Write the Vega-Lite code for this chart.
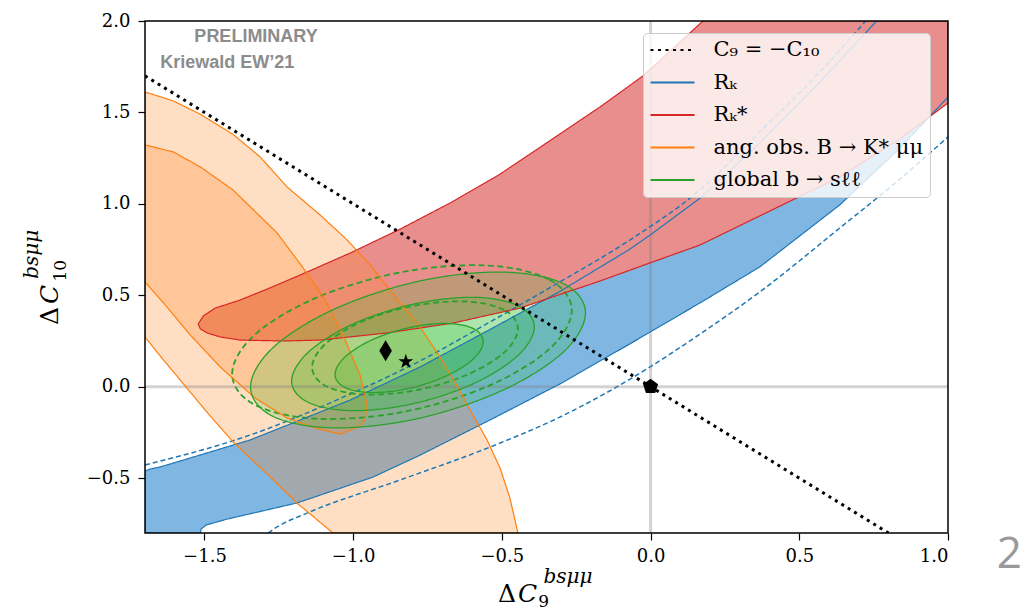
{
  "$schema": "https://vega.github.io/schema/vega-lite/v6.json",
  "width": 803,
  "height": 512,
  "autosize": {"type": "none"},
  "padding": {"left": 145, "top": 21, "right": 85, "bottom": 79},
  "background": "white",
  "config": {
    "view": {"stroke": null},
    "axis": {"domain": false, "grid": false, "ticks": true, "tickColor": "black", "tickWidth": 1.2, "tickSize": 7, "labelFont": "DejaVu Serif", "labelFontSize": 18, "labelColor": "black", "zindex": 1}
  },
  "datasets": {
    "poly": [
      {"shape":"rk","series":"Rₖ","i":1,"x":-1.7,"y":-0.8},
      {"shape":"rk","series":"Rₖ","i":2,"x":-1.514,"y":-0.8},
      {"shape":"rk","series":"Rₖ","i":3,"x":-1.511,"y":-0.778},
      {"shape":"rk","series":"Rₖ","i":4,"x":-1.494,"y":-0.756},
      {"shape":"rk","series":"Rₖ","i":5,"x":-1.424,"y":-0.724},
      {"shape":"rk","series":"Rₖ","i":6,"x":-1.189,"y":-0.636},
      {"shape":"rk","series":"Rₖ","i":7,"x":-0.933,"y":-0.494},
      {"shape":"rk","series":"Rₖ","i":8,"x":-0.775,"y":-0.374},
      {"shape":"rk","series":"Rₖ","i":9,"x":-0.54,"y":-0.182},
      {"shape":"rk","series":"Rₖ","i":10,"x":-0.305,"y":0.015},
      {"shape":"rk","series":"Rₖ","i":11,"x":-0.07,"y":0.234},
      {"shape":"rk","series":"Rₖ","i":12,"x":0.166,"y":0.458},
      {"shape":"rk","series":"Rₖ","i":13,"x":0.367,"y":0.655},
      {"shape":"rk","series":"Rₖ","i":14,"x":0.636,"y":0.994},
      {"shape":"rk","series":"Rₖ","i":15,"x":0.838,"y":1.305},
      {"shape":"rk","series":"Rₖ","i":16,"x":1.0,"y":1.584},
      {"shape":"rk","series":"Rₖ","i":17,"x":1.0,"y":2.0},
      {"shape":"rk","series":"Rₖ","i":18,"x":0.76,"y":2.0},
      {"shape":"rk","series":"Rₖ","i":19,"x":0.569,"y":1.666},
      {"shape":"rk","series":"Rₖ","i":20,"x":0.367,"y":1.333},
      {"shape":"rk","series":"Rₖ","i":21,"x":0.166,"y":1.031},
      {"shape":"rk","series":"Rₖ","i":22,"x":-0.002,"y":0.829},
      {"shape":"rk","series":"Rₖ","i":23,"x":-0.07,"y":0.752},
      {"shape":"rk","series":"Rₖ","i":24,"x":-0.305,"y":0.521},
      {"shape":"rk","series":"Rₖ","i":25,"x":-0.54,"y":0.313},
      {"shape":"rk","series":"Rₖ","i":26,"x":-0.775,"y":0.108},
      {"shape":"rk","series":"Rₖ","i":27,"x":-1.01,"y":-0.073},
      {"shape":"rk","series":"Rₖ","i":28,"x":-1.346,"y":-0.291},
      {"shape":"rk","series":"Rₖ","i":29,"x":-1.649,"y":-0.439},
      {"shape":"rk","series":"Rₖ","i":30,"x":-1.682,"y":-0.45},
      {"shape":"rk","series":"Rₖ","i":31,"x":-1.7,"y":-0.461},

      {"shape":"rks","series":"Rₖ*","i":1,"x":-1.521,"y":0.343},
      {"shape":"rks","series":"Rₖ*","i":2,"x":-1.504,"y":0.387},
      {"shape":"rks","series":"Rₖ*","i":3,"x":-1.464,"y":0.43},
      {"shape":"rks","series":"Rₖ*","i":4,"x":-1.38,"y":0.474},
      {"shape":"rks","series":"Rₖ*","i":5,"x":-1.289,"y":0.534},
      {"shape":"rks","series":"Rₖ*","i":6,"x":-1.178,"y":0.611},
      {"shape":"rks","series":"Rₖ*","i":7,"x":-1.01,"y":0.731},
      {"shape":"rks","series":"Rₖ*","i":8,"x":-0.842,"y":0.862},
      {"shape":"rks","series":"Rₖ*","i":9,"x":-0.674,"y":1.005},
      {"shape":"rks","series":"Rₖ*","i":10,"x":-0.506,"y":1.163},
      {"shape":"rks","series":"Rₖ*","i":11,"x":-0.348,"y":1.335},
      {"shape":"rks","series":"Rₖ*","i":12,"x":-0.17,"y":1.53},
      {"shape":"rks","series":"Rₖ*","i":13,"x":-0.026,"y":1.699},
      {"shape":"rks","series":"Rₖ*","i":14,"x":0.176,"y":2.0},
      {"shape":"rks","series":"Rₖ*","i":15,"x":1.0,"y":2.0},
      {"shape":"rks","series":"Rₖ*","i":16,"x":1.0,"y":1.552},
      {"shape":"rks","series":"Rₖ*","i":17,"x":0.838,"y":1.355},
      {"shape":"rks","series":"Rₖ*","i":18,"x":0.636,"y":1.147},
      {"shape":"rks","series":"Rₖ*","i":19,"x":0.367,"y":0.934},
      {"shape":"rks","series":"Rₖ*","i":20,"x":0.166,"y":0.775},
      {"shape":"rks","series":"Rₖ*","i":21,"x":-0.002,"y":0.677},
      {"shape":"rks","series":"Rₖ*","i":22,"x":-0.17,"y":0.578},
      {"shape":"rks","series":"Rₖ*","i":23,"x":-0.271,"y":0.523},
      {"shape":"rks","series":"Rₖ*","i":24,"x":-0.439,"y":0.43},
      {"shape":"rks","series":"Rₖ*","i":25,"x":-0.664,"y":0.348},
      {"shape":"rks","series":"Rₖ*","i":26,"x":-0.886,"y":0.294},
      {"shape":"rks","series":"Rₖ*","i":27,"x":-1.111,"y":0.255},
      {"shape":"rks","series":"Rₖ*","i":28,"x":-1.236,"y":0.25},
      {"shape":"rks","series":"Rₖ*","i":29,"x":-1.38,"y":0.255},
      {"shape":"rks","series":"Rₖ*","i":30,"x":-1.447,"y":0.272},
      {"shape":"rks","series":"Rₖ*","i":31,"x":-1.491,"y":0.294},
      {"shape":"rks","series":"Rₖ*","i":32,"x":-1.514,"y":0.316},

      {"shape":"ang_outer","series":"ang. obs. B → K* μμ","i":1,"x":-1.7,"y":1.612},
      {"shape":"ang_outer","series":"ang. obs. B → K* μμ","i":2,"x":-1.605,"y":1.563},
      {"shape":"ang_outer","series":"ang. obs. B → K* μμ","i":3,"x":-1.514,"y":1.49},
      {"shape":"ang_outer","series":"ang. obs. B → K* μμ","i":4,"x":-1.404,"y":1.38},
      {"shape":"ang_outer","series":"ang. obs. B → K* μμ","i":5,"x":-1.313,"y":1.257},
      {"shape":"ang_outer","series":"ang. obs. B → K* μμ","i":6,"x":-1.222,"y":1.092},
      {"shape":"ang_outer","series":"ang. obs. B → K* μμ","i":7,"x":-1.111,"y":0.939},
      {"shape":"ang_outer","series":"ang. obs. B → K* μμ","i":8,"x":-1.02,"y":0.802},
      {"shape":"ang_outer","series":"ang. obs. B → K* μμ","i":9,"x":-0.943,"y":0.666},
      {"shape":"ang_outer","series":"ang. obs. B → K* μμ","i":10,"x":-0.842,"y":0.458},
      {"shape":"ang_outer","series":"ang. obs. B → K* μμ","i":11,"x":-0.775,"y":0.327},
      {"shape":"ang_outer","series":"ang. obs. B → K* μμ","i":12,"x":-0.708,"y":0.162},
      {"shape":"ang_outer","series":"ang. obs. B → K* μμ","i":13,"x":-0.658,"y":0.026},
      {"shape":"ang_outer","series":"ang. obs. B → K* μμ","i":14,"x":-0.607,"y":-0.127},
      {"shape":"ang_outer","series":"ang. obs. B → K* μμ","i":15,"x":-0.55,"y":-0.291},
      {"shape":"ang_outer","series":"ang. obs. B → K* μμ","i":16,"x":-0.506,"y":-0.445},
      {"shape":"ang_outer","series":"ang. obs. B → K* μμ","i":17,"x":-0.473,"y":-0.609},
      {"shape":"ang_outer","series":"ang. obs. B → K* μμ","i":18,"x":-0.446,"y":-0.8},
      {"shape":"ang_outer","series":"ang. obs. B → K* μμ","i":19,"x":-1.068,"y":-0.8},
      {"shape":"ang_outer","series":"ang. obs. B → K* μμ","i":20,"x":-1.189,"y":-0.636},
      {"shape":"ang_outer","series":"ang. obs. B → K* μμ","i":21,"x":-1.296,"y":-0.467},
      {"shape":"ang_outer","series":"ang. obs. B → K* μμ","i":22,"x":-1.404,"y":-0.302},
      {"shape":"ang_outer","series":"ang. obs. B → K* μμ","i":23,"x":-1.498,"y":-0.127},
      {"shape":"ang_outer","series":"ang. obs. B → K* μμ","i":24,"x":-1.582,"y":0.037},
      {"shape":"ang_outer","series":"ang. obs. B → K* μμ","i":25,"x":-1.649,"y":0.168},
      {"shape":"ang_outer","series":"ang. obs. B → K* μμ","i":26,"x":-1.7,"y":0.272},

      {"shape":"ang_inner","series":"ang. obs. B → K* μμ","i":1,"x":-1.7,"y":1.322},
      {"shape":"ang_inner","series":"ang. obs. B → K* μμ","i":2,"x":-1.605,"y":1.284},
      {"shape":"ang_inner","series":"ang. obs. B → K* μμ","i":3,"x":-1.514,"y":1.202},
      {"shape":"ang_inner","series":"ang. obs. B → K* μμ","i":4,"x":-1.404,"y":1.076},
      {"shape":"ang_inner","series":"ang. obs. B → K* μμ","i":5,"x":-1.256,"y":0.841},
      {"shape":"ang_inner","series":"ang. obs. B → K* μμ","i":6,"x":-1.168,"y":0.649},
      {"shape":"ang_inner","series":"ang. obs. B → K* μμ","i":7,"x":-1.094,"y":0.474},
      {"shape":"ang_inner","series":"ang. obs. B → K* μμ","i":8,"x":-1.027,"y":0.255},
      {"shape":"ang_inner","series":"ang. obs. B → K* μμ","i":9,"x":-0.977,"y":0.064},
      {"shape":"ang_inner","series":"ang. obs. B → K* μμ","i":10,"x":-0.953,"y":-0.1},
      {"shape":"ang_inner","series":"ang. obs. B → K* μμ","i":11,"x":-0.96,"y":-0.182},
      {"shape":"ang_inner","series":"ang. obs. B → K* μμ","i":12,"x":-0.983,"y":-0.22},
      {"shape":"ang_inner","series":"ang. obs. B → K* μμ","i":13,"x":-1.044,"y":-0.259},
      {"shape":"ang_inner","series":"ang. obs. B → K* μμ","i":14,"x":-1.128,"y":-0.226},
      {"shape":"ang_inner","series":"ang. obs. B → K* μμ","i":15,"x":-1.222,"y":-0.171},
      {"shape":"ang_inner","series":"ang. obs. B → K* μμ","i":16,"x":-1.33,"y":-0.062},
      {"shape":"ang_inner","series":"ang. obs. B → K* μμ","i":17,"x":-1.447,"y":0.108},
      {"shape":"ang_inner","series":"ang. obs. B → K* μμ","i":18,"x":-1.548,"y":0.283},
      {"shape":"ang_inner","series":"ang. obs. B → K* μμ","i":19,"x":-1.632,"y":0.447},
      {"shape":"ang_inner","series":"ang. obs. B → K* μμ","i":20,"x":-1.7,"y":0.573},

      {"shape":"s1","series":"global b → sℓℓ","i":1,"x":-0.563,"y":0.247},
      {"shape":"s1","series":"global b → sℓℓ","i":2,"x":-0.596,"y":0.318},
      {"shape":"s1","series":"global b → sℓℓ","i":3,"x":-0.688,"y":0.346},
      {"shape":"s1","series":"global b → sℓℓ","i":4,"x":-0.812,"y":0.323},
      {"shape":"s1","series":"global b → sℓℓ","i":5,"x":-0.937,"y":0.256},
      {"shape":"s1","series":"global b → sℓℓ","i":6,"x":-1.028,"y":0.162},
      {"shape":"s1","series":"global b → sℓℓ","i":7,"x":-1.061,"y":0.067},
      {"shape":"s1","series":"global b → sℓℓ","i":8,"x":-1.028,"y":-0.004},
      {"shape":"s1","series":"global b → sℓℓ","i":9,"x":-0.937,"y":-0.032},
      {"shape":"s1","series":"global b → sℓℓ","i":10,"x":-0.812,"y":-0.009},
      {"shape":"s1","series":"global b → sℓℓ","i":11,"x":-0.688,"y":0.058},
      {"shape":"s1","series":"global b → sℓℓ","i":12,"x":-0.596,"y":0.152},

      {"shape":"s2","series":"global b → sℓℓ","i":1,"x":-0.391,"y":0.327},
      {"shape":"s2","series":"global b → sℓℓ","i":2,"x":-0.446,"y":0.443},
      {"shape":"s2","series":"global b → sℓℓ","i":3,"x":-0.595,"y":0.489},
      {"shape":"s2","series":"global b → sℓℓ","i":4,"x":-0.799,"y":0.451},
      {"shape":"s2","series":"global b → sℓℓ","i":5,"x":-1.003,"y":0.341},
      {"shape":"s2","series":"global b → sℓℓ","i":6,"x":-1.152,"y":0.187},
      {"shape":"s2","series":"global b → sℓℓ","i":7,"x":-1.207,"y":0.031},
      {"shape":"s2","series":"global b → sℓℓ","i":8,"x":-1.152,"y":-0.085},
      {"shape":"s2","series":"global b → sℓℓ","i":9,"x":-1.003,"y":-0.131},
      {"shape":"s2","series":"global b → sℓℓ","i":10,"x":-0.799,"y":-0.093},
      {"shape":"s2","series":"global b → sℓℓ","i":11,"x":-0.595,"y":0.017},
      {"shape":"s2","series":"global b → sℓℓ","i":12,"x":-0.446,"y":0.171},

      {"shape":"s3","series":"global b → sℓℓ","i":1,"x":-0.219,"y":0.404},
      {"shape":"s3","series":"global b → sℓℓ","i":2,"x":-0.294,"y":0.564},
      {"shape":"s3","series":"global b → sℓℓ","i":3,"x":-0.501,"y":0.627},
      {"shape":"s3","series":"global b → sℓℓ","i":4,"x":-0.782,"y":0.576},
      {"shape":"s3","series":"global b → sℓℓ","i":5,"x":-1.064,"y":0.424},
      {"shape":"s3","series":"global b → sℓℓ","i":6,"x":-1.27,"y":0.213},
      {"shape":"s3","series":"global b → sℓℓ","i":7,"x":-1.345,"y":-0.002},
      {"shape":"s3","series":"global b → sℓℓ","i":8,"x":-1.27,"y":-0.162},
      {"shape":"s3","series":"global b → sℓℓ","i":9,"x":-1.064,"y":-0.225},
      {"shape":"s3","series":"global b → sℓℓ","i":10,"x":-0.782,"y":-0.174},
      {"shape":"s3","series":"global b → sℓℓ","i":11,"x":-0.501,"y":-0.022},
      {"shape":"s3","series":"global b → sℓℓ","i":12,"x":-0.294,"y":0.189}
    ],
    "lines": [
      {"shape":"rk_up","i":1,"x":-1.7,"y":-0.428},
      {"shape":"rk_up","i":2,"x":-1.346,"y":-0.264},
      {"shape":"rk_up","i":3,"x":-1.01,"y":-0.04},
      {"shape":"rk_up","i":4,"x":-0.775,"y":0.141},
      {"shape":"rk_up","i":5,"x":-0.54,"y":0.354},
      {"shape":"rk_up","i":6,"x":-0.305,"y":0.573},
      {"shape":"rk_up","i":7,"x":-0.07,"y":0.802},
      {"shape":"rk_up","i":8,"x":0.166,"y":1.076},
      {"shape":"rk_up","i":9,"x":0.367,"y":1.393},
      {"shape":"rk_up","i":10,"x":0.569,"y":1.721},
      {"shape":"rk_up","i":11,"x":0.723,"y":2.0},

      {"shape":"rk_lo","i":1,"x":-1.286,"y":-0.8},
      {"shape":"rk_lo","i":2,"x":-1.256,"y":-0.767},
      {"shape":"rk_lo","i":3,"x":-1.155,"y":-0.691},
      {"shape":"rk_lo","i":4,"x":-0.842,"y":-0.51},
      {"shape":"rk_lo","i":5,"x":-0.54,"y":-0.33},
      {"shape":"rk_lo","i":6,"x":-0.305,"y":-0.166},
      {"shape":"rk_lo","i":7,"x":-0.002,"y":0.108},
      {"shape":"rk_lo","i":8,"x":0.166,"y":0.288},
      {"shape":"rk_lo","i":9,"x":0.367,"y":0.518},
      {"shape":"rk_lo","i":10,"x":0.636,"y":0.868},
      {"shape":"rk_lo","i":11,"x":0.838,"y":1.135},
      {"shape":"rk_lo","i":12,"x":1.0,"y":1.366},

      {"shape":"d1","i":1,"x":-0.446,"y":0.318},
      {"shape":"d1","i":2,"x":-0.492,"y":0.42},
      {"shape":"d1","i":3,"x":-0.619,"y":0.466},
      {"shape":"d1","i":4,"x":-0.792,"y":0.444},
      {"shape":"d1","i":5,"x":-0.965,"y":0.36},
      {"shape":"d1","i":6,"x":-1.092,"y":0.236},
      {"shape":"d1","i":7,"x":-1.138,"y":0.106},
      {"shape":"d1","i":8,"x":-1.092,"y":0.004},
      {"shape":"d1","i":9,"x":-0.965,"y":-0.042},
      {"shape":"d1","i":10,"x":-0.792,"y":-0.02},
      {"shape":"d1","i":11,"x":-0.619,"y":0.064},
      {"shape":"d1","i":12,"x":-0.492,"y":0.188},

      {"shape":"d2","i":1,"x":-0.265,"y":0.419},
      {"shape":"d2","i":2,"x":-0.342,"y":0.587},
      {"shape":"d2","i":3,"x":-0.551,"y":0.663},
      {"shape":"d2","i":4,"x":-0.836,"y":0.627},
      {"shape":"d2","i":5,"x":-1.122,"y":0.488},
      {"shape":"d2","i":6,"x":-1.331,"y":0.284},
      {"shape":"d2","i":7,"x":-1.407,"y":0.069},
      {"shape":"d2","i":8,"x":-1.331,"y":-0.099},
      {"shape":"d2","i":9,"x":-1.122,"y":-0.175},
      {"shape":"d2","i":10,"x":-0.836,"y":-0.139},
      {"shape":"d2","i":11,"x":-0.551,"y":0.0},
      {"shape":"d2","i":12,"x":-0.342,"y":0.204},

      {"shape":"c9","series":"C₉ = −C₁₀","i":1,"x":-1.7,"y":1.7},
      {"shape":"c9","series":"C₉ = −C₁₀","i":2,"x":0.8,"y":-0.8}
    ],
    "points": [
      {"name":"SM","x":0.0,"y":0.0},
      {"name":"fit_a","x":-0.891,"y":0.197},
      {"name":"fit_b","x":-0.823,"y":0.137}
    ]
  },
  "layer": [
    {
      "data": {"name": "poly"},
      "transform": [{"filter": "datum.shape === 'rk'"}],
      "mark": {"type": "line", "interpolate": "linear-closed", "fill": "#7fb6e2", "strokeWidth": 0, "clip": true},
      "encoding": {
        "x": {"field": "x", "type": "quantitative", "title": null, "scale": {"domain": [-1.7, 1.0], "nice": false, "zero": false},
              "axis": {"values": [-1.5, -1, -0.5, 0, 0.5, 1], "format": ".1f", "labelPadding": 7, "title": null}},
        "y": {"field": "y", "type": "quantitative", "title": null, "scale": {"domain": [-0.8, 2.0], "nice": false, "zero": false},
              "axis": {"values": [-0.5, 0, 0.5, 1, 1.5, 2], "format": ".1f", "labelPadding": 8, "title": null}},
        "order": {"field": "i", "type": "quantitative"}
      }
    },
    {
      "data": {"name": "poly"},
      "transform": [{"filter": "datum.shape === 'rks'"}],
      "mark": {"type": "line", "interpolate": "linear-closed", "fill": "#e88f8e", "strokeWidth": 0, "clip": true},
      "encoding": {
        "x": {"field": "x", "type": "quantitative", "title": null, "scale": {"domain": [-1.7, 1.0], "nice": false, "zero": false}},
        "y": {"field": "y", "type": "quantitative", "title": null, "scale": {"domain": [-0.8, 2.0], "nice": false, "zero": false}},
        "order": {"field": "i", "type": "quantitative"}
      }
    },
    {
      "data": {"name": "poly"},
      "transform": [{"filter": "datum.shape === 'ang_outer' || datum.shape === 'ang_inner'"}],
      "mark": {"type": "line", "interpolate": "linear-closed", "fill": "#ff8a24", "fillOpacity": 0.27, "strokeWidth": 0, "clip": true},
      "encoding": {
        "x": {"field": "x", "type": "quantitative", "title": null, "scale": {"domain": [-1.7, 1.0], "nice": false, "zero": false}},
        "y": {"field": "y", "type": "quantitative", "title": null, "scale": {"domain": [-0.8, 2.0], "nice": false, "zero": false}},
        "detail": {"field": "shape"},
        "order": {"field": "i", "type": "quantitative"}
      }
    },
    {
      "data": {"name": "poly"},
      "transform": [{"filter": "datum.shape === 's1' || datum.shape === 's2' || datum.shape === 's3'"}],
      "mark": {"type": "line", "interpolate": "cardinal-closed", "fill": "#2cbf2c", "fillOpacity": 0.22, "strokeWidth": 0, "clip": true},
      "encoding": {
        "x": {"field": "x", "type": "quantitative", "title": null, "scale": {"domain": [-1.7, 1.0], "nice": false, "zero": false}},
        "y": {"field": "y", "type": "quantitative", "title": null, "scale": {"domain": [-0.8, 2.0], "nice": false, "zero": false}},
        "detail": {"field": "shape"},
        "order": {"field": "i", "type": "quantitative"}
      }
    },
    {
      "data": {"values": [{}]},
      "mark": {"type": "rule", "color": "#808080", "strokeWidth": 3, "opacity": 0.35},
      "encoding": {
        "x": {"datum": 0, "type": "quantitative", "title": null, "scale": {"domain": [-1.7, 1.0], "nice": false, "zero": false}}
      }
    },
    {
      "data": {"values": [{}]},
      "mark": {"type": "rule", "color": "#808080", "strokeWidth": 3, "opacity": 0.35},
      "encoding": {
        "y": {"datum": 0, "type": "quantitative", "title": null, "scale": {"domain": [-0.8, 2.0], "nice": false, "zero": false}}
      }
    },
    {
      "data": {"name": "lines"},
      "transform": [{"filter": "datum.shape === 'rk_up' || datum.shape === 'rk_lo'"}],
      "mark": {"type": "line", "interpolate": "monotone", "stroke": "#1f77b4", "strokeWidth": 1.5, "strokeDash": [5, 3], "clip": true},
      "encoding": {
        "x": {"field": "x", "type": "quantitative", "title": null, "scale": {"domain": [-1.7, 1.0], "nice": false, "zero": false}},
        "y": {"field": "y", "type": "quantitative", "title": null, "scale": {"domain": [-0.8, 2.0], "nice": false, "zero": false}},
        "detail": {"field": "shape"},
        "order": {"field": "i", "type": "quantitative"}
      }
    },
    {
      "data": {"name": "lines"},
      "transform": [{"filter": "datum.shape === 'd1' || datum.shape === 'd2'"}],
      "mark": {"type": "line", "interpolate": "cardinal-closed", "stroke": "#2ca02c", "strokeWidth": 1.8, "strokeDash": [6, 3.5], "clip": true},
      "encoding": {
        "x": {"field": "x", "type": "quantitative", "title": null, "scale": {"domain": [-1.7, 1.0], "nice": false, "zero": false}},
        "y": {"field": "y", "type": "quantitative", "title": null, "scale": {"domain": [-0.8, 2.0], "nice": false, "zero": false}},
        "detail": {"field": "shape"},
        "order": {"field": "i", "type": "quantitative"}
      }
    },
    {
      "data": {"name": "poly"},
      "transform": [{"filter": "datum.shape === 'rk' || datum.shape === 'rks' || datum.shape === 'ang_outer' || datum.shape === 'ang_inner'"}],
      "mark": {"type": "line", "interpolate": "linear-closed", "strokeWidth": 1.2, "clip": true},
      "encoding": {
        "x": {"field": "x", "type": "quantitative", "title": null, "scale": {"domain": [-1.7, 1.0], "nice": false, "zero": false}},
        "y": {"field": "y", "type": "quantitative", "title": null, "scale": {"domain": [-0.8, 2.0], "nice": false, "zero": false}},
        "detail": {"field": "shape"},
        "order": {"field": "i", "type": "quantitative"},
        "stroke": {"field": "series", "type": "nominal",
          "scale": {"domain": ["C₉ = −C₁₀", "Rₖ", "Rₖ*", "ang. obs. B → K* μμ", "global b → sℓℓ"], "range": ["#000000", "#1f77b4", "#d62728", "#ff7f0e", "#2ca02c"]},
          "legend": {"title": null, "orient": "none", "legendX": 498, "legendY": 12, "fillColor": "rgba(255,255,255,0.8)", "strokeColor": "#cccccc", "cornerRadius": 4, "padding": 6.5, "symbolType": "stroke", "symbolSize": 1936, "symbolStrokeWidth": 2, "clipHeight": 21, "rowPadding": 10.5, "labelOffset": 18, "labelFont": "DejaVu Serif", "labelFontSize": 21, "labelColor": "black", "labelLimit": 400}},
        "strokeDash": {"field": "series", "type": "nominal",
          "scale": {"domain": ["C₉ = −C₁₀", "Rₖ", "Rₖ*", "ang. obs. B → K* μμ", "global b → sℓℓ"], "range": [[3, 4.5], [1, 0], [1, 0], [1, 0], [1, 0]]},
          "legend": {"title": null, "orient": "none", "legendX": 498, "legendY": 12, "fillColor": "rgba(255,255,255,0.8)", "strokeColor": "#cccccc", "cornerRadius": 4, "padding": 6.5, "symbolType": "stroke", "symbolSize": 1936, "symbolStrokeWidth": 2, "clipHeight": 21, "rowPadding": 10.5, "labelOffset": 18, "labelFont": "DejaVu Serif", "labelFontSize": 21, "labelColor": "black", "labelLimit": 400}}
      }
    },
    {
      "data": {"name": "poly"},
      "transform": [{"filter": "datum.shape === 's1' || datum.shape === 's2' || datum.shape === 's3'"}],
      "mark": {"type": "line", "interpolate": "cardinal-closed", "strokeWidth": 1.3, "clip": true},
      "encoding": {
        "x": {"field": "x", "type": "quantitative", "title": null, "scale": {"domain": [-1.7, 1.0], "nice": false, "zero": false}},
        "y": {"field": "y", "type": "quantitative", "title": null, "scale": {"domain": [-0.8, 2.0], "nice": false, "zero": false}},
        "detail": {"field": "shape"},
        "order": {"field": "i", "type": "quantitative"},
        "stroke": {"field": "series", "type": "nominal"},
        "strokeDash": {"field": "series", "type": "nominal"}
      }
    },
    {
      "data": {"name": "lines"},
      "transform": [{"filter": "datum.shape === 'c9'"}],
      "mark": {"type": "line", "strokeWidth": 3, "clip": true},
      "encoding": {
        "x": {"field": "x", "type": "quantitative", "title": null, "scale": {"domain": [-1.7, 1.0], "nice": false, "zero": false}},
        "y": {"field": "y", "type": "quantitative", "title": null, "scale": {"domain": [-0.8, 2.0], "nice": false, "zero": false}},
        "order": {"field": "i", "type": "quantitative"},
        "stroke": {"field": "series", "type": "nominal"},
        "strokeDash": {"field": "series", "type": "nominal"}
      }
    },
    {
      "data": {"name": "points"},
      "mark": {"type": "point", "filled": true, "color": "black", "opacity": 1, "size": 250, "strokeWidth": 0},
      "encoding": {
        "x": {"field": "x", "type": "quantitative", "title": null, "scale": {"domain": [-1.7, 1.0], "nice": false, "zero": false}},
        "y": {"field": "y", "type": "quantitative", "title": null, "scale": {"domain": [-0.8, 2.0], "nice": false, "zero": false}},
        "shape": {"field": "name", "type": "nominal", "legend": null,
          "scale": {"domain": ["SM", "fit_a", "fit_b"],
            "range": ["M0,-1L0.951,-0.309L0.588,0.809L-0.588,0.809L-0.951,-0.309Z", "M0,-1.33L0.8,0L0,1.33L-0.8,0Z", "M0,-1L0.2245,-0.309L0.951,-0.309L0.363,0.118L0.588,0.809L0,0.382L-0.588,0.809L-0.363,0.118L-0.951,-0.309L-0.2245,-0.309Z"]}}
      }
    },
    {
      "data": {"values": [{}]},
      "mark": {"type": "rect", "fillOpacity": 0, "stroke": "black", "strokeWidth": 1.5},
      "encoding": {
        "x": {"datum": -1.7, "type": "quantitative", "title": null, "scale": {"domain": [-1.7, 1.0], "nice": false, "zero": false}},
        "x2": {"datum": 1.0},
        "y": {"datum": -0.8, "type": "quantitative", "title": null, "scale": {"domain": [-0.8, 2.0], "nice": false, "zero": false}},
        "y2": {"datum": 2.0}
      }
    },
    {
      "data": {"values": [{}]},
      "mark": {"type": "text", "text": "PRELIMINARY", "font": "Liberation Sans", "fontWeight": "bold", "fontSize": 18, "color": "#8c8c8c", "align": "left", "baseline": "alphabetic"},
      "encoding": {
        "x": {"datum": -1.534, "type": "quantitative", "scale": {"domain": [-1.7, 1.0], "nice": false, "zero": false}},
        "y": {"datum": 1.887, "type": "quantitative", "scale": {"domain": [-0.8, 2.0], "nice": false, "zero": false}}
      }
    },
    {
      "data": {"values": [{}]},
      "mark": {"type": "text", "text": "Kriewald EW’21", "font": "Liberation Sans", "fontWeight": "bold", "fontSize": 18, "color": "#8c8c8c", "align": "left", "baseline": "alphabetic"},
      "encoding": {
        "x": {"datum": -1.649, "type": "quantitative", "scale": {"domain": [-1.7, 1.0], "nice": false, "zero": false}},
        "y": {"datum": 1.741, "type": "quantitative", "scale": {"domain": [-0.8, 2.0], "nice": false, "zero": false}}
      }
    },
    {
      "data": {"values": [{}]},
      "mark": {"type": "text", "text": "Δ", "font": "DejaVu Serif", "fontSize": 25, "color": "black", "align": "left", "baseline": "alphabetic"},
      "encoding": {
        "x": {"datum": -0.513, "type": "quantitative", "scale": {"domain": [-1.7, 1.0], "nice": false, "zero": false}},
        "y": {"datum": -1.175, "type": "quantitative", "scale": {"domain": [-0.8, 2.0], "nice": false, "zero": false}}
      }
    },
    {
      "data": {"values": [{}]},
      "mark": {"type": "text", "text": "C", "font": "DejaVu Serif", "fontStyle": "italic", "fontSize": 25, "color": "black", "align": "left", "baseline": "alphabetic"},
      "encoding": {
        "x": {"datum": -0.446, "type": "quantitative", "scale": {"domain": [-1.7, 1.0], "nice": false, "zero": false}},
        "y": {"datum": -1.175, "type": "quantitative", "scale": {"domain": [-0.8, 2.0], "nice": false, "zero": false}}
      }
    },
    {
      "data": {"values": [{}]},
      "mark": {"type": "text", "text": "9", "font": "DejaVu Serif", "fontSize": 17, "color": "black", "align": "left", "baseline": "alphabetic"},
      "encoding": {
        "x": {"datum": -0.378, "type": "quantitative", "scale": {"domain": [-1.7, 1.0], "nice": false, "zero": false}},
        "y": {"datum": -1.203, "type": "quantitative", "scale": {"domain": [-0.8, 2.0], "nice": false, "zero": false}}
      }
    },
    {
      "data": {"values": [{}]},
      "mark": {"type": "text", "text": "bsμμ", "font": "DejaVu Serif", "fontStyle": "italic", "fontSize": 20, "color": "black", "align": "left", "baseline": "alphabetic"},
      "encoding": {
        "x": {"datum": -0.36, "type": "quantitative", "scale": {"domain": [-1.7, 1.0], "nice": false, "zero": false}},
        "y": {"datum": -1.074, "type": "quantitative", "scale": {"domain": [-0.8, 2.0], "nice": false, "zero": false}}
      }
    },
    {
      "data": {"values": [{}]},
      "mark": {"type": "text", "text": "Δ", "font": "DejaVu Serif", "fontSize": 25, "color": "black", "align": "left", "baseline": "alphabetic", "angle": 270},
      "encoding": {
        "x": {"datum": -1.992, "type": "quantitative", "scale": {"domain": [-1.7, 1.0], "nice": false, "zero": false}},
        "y": {"datum": 0.337, "type": "quantitative", "scale": {"domain": [-0.8, 2.0], "nice": false, "zero": false}}
      }
    },
    {
      "data": {"values": [{}]},
      "mark": {"type": "text", "text": "C", "font": "DejaVu Serif", "fontStyle": "italic", "fontSize": 25, "color": "black", "align": "left", "baseline": "alphabetic", "angle": 270},
      "encoding": {
        "x": {"datum": -1.992, "type": "quantitative", "scale": {"domain": [-1.7, 1.0], "nice": false, "zero": false}},
        "y": {"datum": 0.452, "type": "quantitative", "scale": {"domain": [-0.8, 2.0], "nice": false, "zero": false}}
      }
    },
    {
      "data": {"values": [{}]},
      "mark": {"type": "text", "text": "10", "font": "DejaVu Serif", "fontSize": 17, "color": "black", "align": "left", "baseline": "alphabetic", "angle": 270},
      "encoding": {
        "x": {"datum": -1.965, "type": "quantitative", "scale": {"domain": [-1.7, 1.0], "nice": false, "zero": false}},
        "y": {"datum": 0.575, "type": "quantitative", "scale": {"domain": [-0.8, 2.0], "nice": false, "zero": false}}
      }
    },
    {
      "data": {"values": [{}]},
      "mark": {"type": "text", "text": "bsμμ", "font": "DejaVu Serif", "fontStyle": "italic", "fontSize": 20, "color": "black", "align": "left", "baseline": "alphabetic", "angle": 270},
      "encoding": {
        "x": {"datum": -2.059, "type": "quantitative", "scale": {"domain": [-1.7, 1.0], "nice": false, "zero": false}},
        "y": {"datum": 0.59, "type": "quantitative", "scale": {"domain": [-0.8, 2.0], "nice": false, "zero": false}}
      }
    },
    {
      "data": {"values": [{}]},
      "mark": {"type": "text", "text": "2", "font": "Open Sans", "fontSize": 44, "color": "#999999", "align": "left", "baseline": "alphabetic"},
      "encoding": {
        "x": {"datum": 1.164, "type": "quantitative", "scale": {"domain": [-1.7, 1.0], "nice": false, "zero": false}},
        "y": {"datum": -0.992, "type": "quantitative", "scale": {"domain": [-0.8, 2.0], "nice": false, "zero": false}}
      }
    }
  ]
}
